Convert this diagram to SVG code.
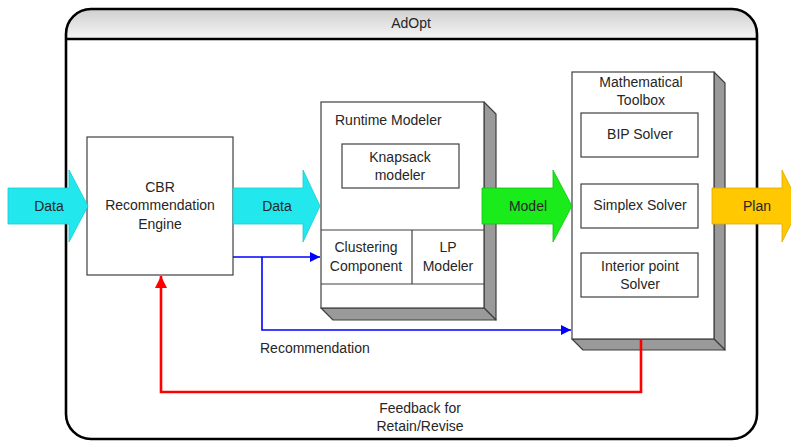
<svg xmlns="http://www.w3.org/2000/svg" width="791" height="441" viewBox="0 0 791 441">
<style>
text{font-family:"Liberation Sans",Arial,sans-serif;font-size:14px;fill:#262626;text-anchor:middle;dominant-baseline:central}
.box{fill:#fff;stroke:#404040;stroke-width:1.2}
.face{fill:#9a9a9a;stroke:#404040;stroke-width:1.2;stroke-linejoin:round}
.ln{fill:none;stroke:#404040;stroke-width:1.2}
.cyan{fill:#22e8ee;stroke:#1cc8d0;stroke-width:0.8}
.blue{fill:none;stroke:#0000ff;stroke-width:1.6}
.red{fill:none;stroke:#ff0000;stroke-width:2.6}
</style>
<defs>
<linearGradient id="hdr" x1="0" y1="0" x2="0" y2="1">
<stop offset="0" stop-color="#cfcfcf"/>
<stop offset="1" stop-color="#f6f6f6"/>
</linearGradient>
<marker id="ab" viewBox="0 0 10 10" refX="10" refY="5" markerWidth="10" markerHeight="10" markerUnits="userSpaceOnUse" orient="auto">
<path d="M0,0 L10,5 L0,10 Z" fill="#0000ff"/>
</marker>
<marker id="ar" viewBox="0 0 10 10" refX="10" refY="5" markerWidth="12" markerHeight="12" markerUnits="userSpaceOnUse" orient="auto">
<path d="M0,0 L10,5 L0,10 Z" fill="#ff0000"/>
</marker>
</defs>
<rect width="791" height="441" fill="#fff"/>
<g id="adopt">
<path d="M66,39 L66,34 A25,25 0 0 1 91,9 L732,9 A25,25 0 0 1 757,34 L757,39 Z" fill="url(#hdr)"/>
<rect x="66" y="9" width="691" height="430" rx="25" ry="25" fill="none" stroke="#000" stroke-width="2.6"/>
<line x1="66" y1="39" x2="757" y2="39" stroke="#000" stroke-width="2.4"/>
<text x="411" y="23">AdOpt</text>
</g>
<g id="cbr">
<rect class="box" x="87" y="137" width="146" height="138"/>
<text x="160" y="187">CBR</text>
<text x="160" y="205">Recommendation</text>
<text x="160" y="224">Engine</text>
</g>
<g id="runtime">
<polygon class="face" points="484,102 496,114 496,320 484,308"/>
<polygon class="face" points="321,308 484,308 496,320 333,320"/>
<rect class="box" x="321" y="102" width="163" height="206"/>
<text x="335" y="120" style="text-anchor:start">Runtime Modeler</text>
<rect class="box" x="342" y="144" width="117" height="44"/>
<text x="400" y="157">Knapsack</text>
<text x="400" y="175">modeler</text>
<line class="ln" x1="321" y1="230" x2="484" y2="230"/>
<line class="ln" x1="412" y1="230" x2="412" y2="284"/>
<line class="ln" x1="321" y1="284" x2="484" y2="284"/>
<text x="366" y="247">Clustering</text>
<text x="366" y="266">Component</text>
<text x="448" y="247">LP</text>
<text x="448" y="266">Modeler</text>
</g>
<g id="toolbox">
<polygon class="face" points="714,72 725,83 725,350 714,339"/>
<polygon class="face" points="572,339 714,339 725,350 583,350"/>
<rect class="box" x="572" y="72" width="142" height="267"/>
<text x="641" y="82">Mathematical</text>
<text x="641" y="100">Toolbox</text>
<rect class="box" x="581" y="113" width="117" height="44"/>
<text x="640" y="134">BIP Solver</text>
<rect class="box" x="581" y="184" width="117" height="44"/>
<text x="640" y="205">Simplex Solver</text>
<rect class="box" x="581" y="253" width="117" height="44"/>
<text x="640" y="266">Interior point</text>
<text x="640" y="284">Solver</text>
</g>
<g id="flows">
<path class="cyan" d="M8,188 L69,188 L69,170 L88,206 L69,242 L69,224 L8,224 Z"/>
<text x="49" y="206">Data</text>
<path class="cyan" d="M233,188 L303,188 L303,170 L320,206 L303,242 L303,224 L233,224 Z"/>
<text x="277" y="206">Data</text>
<path d="M482,188 L553,188 L553,170 L572,206 L553,242 L553,224 L482,224 Z" fill="#1aeb1a" stroke="#10c010" stroke-width="0.8"/>
<text x="528" y="206">Model</text>
<path d="M712,188 L782,188 L782,170 L800,206 L782,242 L782,224 L712,224 Z" fill="#ffc800" stroke="#e0a800" stroke-width="0.8"/>
<text x="757" y="206">Plan</text>
</g>
<g id="connectors">
<path class="blue" d="M233,257 L320,257" marker-end="url(#ab)"/>
<path class="blue" d="M262,257 L262,330 L571,330" marker-end="url(#ab)"/>
<path class="red" d="M641,339 L641,392 L161,392 L161,276" marker-end="url(#ar)"/>
<text x="260" y="348" style="text-anchor:start">Recommendation</text>
<text x="420" y="408">Feedback for</text>
<text x="420" y="426">Retain/Revise</text>
</g>
</svg>
